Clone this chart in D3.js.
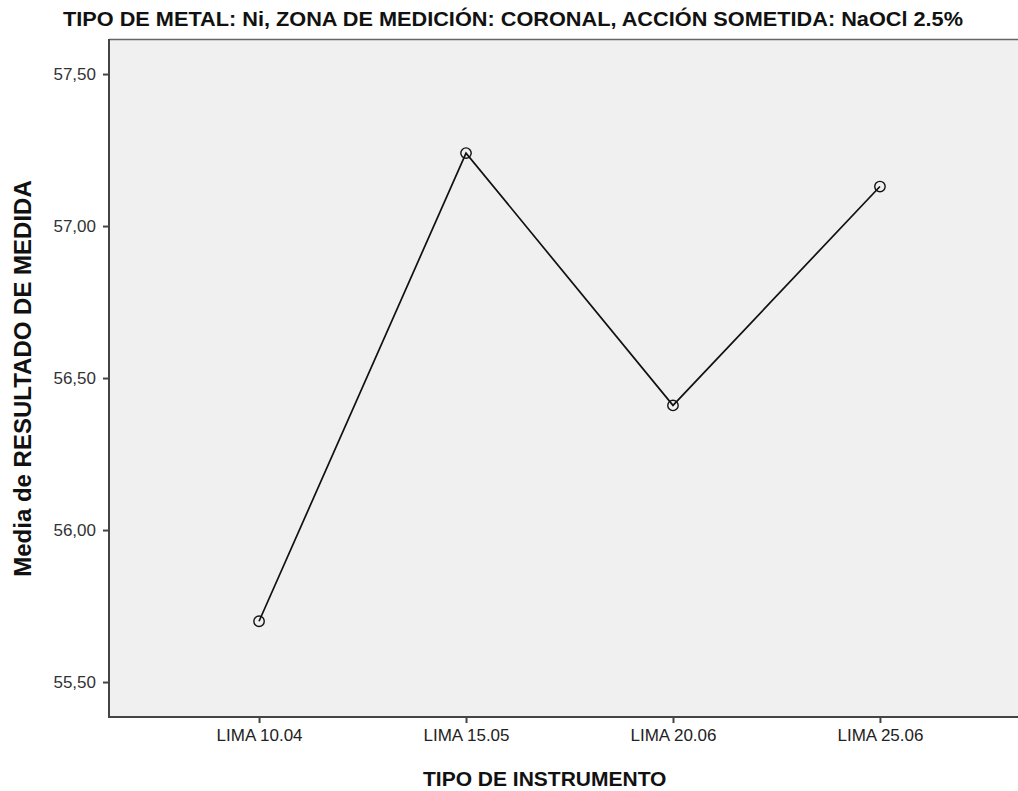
<!DOCTYPE html>
<html>
<head>
<meta charset="utf-8">
<script src="https://cdn.jsdelivr.net/npm/d3@7"></script>
<style>
  html, body { margin: 0; padding: 0; background: #fff; overflow: hidden; }
  svg { display: block; overflow: hidden; }
</style>
</head>
<body>
<svg id="chart" width="1018" height="791"></svg>
<script>
// Mean measurement per instrument type
const categories = ["LIMA 10.04", "LIMA 15.05", "LIMA 20.06", "LIMA 25.06"];
const means = [55.70, 57.24, 56.41, 57.13];
const yTicks = [55.5, 56.0, 56.5, 57.0, 57.5];

const chartTitle = "TIPO DE METAL: Ni, ZONA DE MEDICIÓN: CORONAL, ACCIÓN SOMETIDA: NaOCl 2.5%";
const xTitle = "TIPO DE INSTRUMENTO";
const yTitle = "Media de RESULTADO DE MEDIDA";

const svg = d3.select("#chart");
const W = 1018, H = 791;
const plot = { left: 109, top: 40, right: 1030, bottom: 717 };
const sans = "Arial, 'Liberation Sans', sans-serif";

const x = d3.scalePoint()
  .domain(categories)
  .range([plot.left, plot.right])
  .padding(0.725);

const y = d3.scaleLinear()
  .domain([55.385, 57.612])
  .range([plot.bottom, plot.top]);

// Plot background
svg.append("rect")
  .attr("x", plot.left)
  .attr("y", plot.top)
  .attr("width", W - plot.left)
  .attr("height", plot.bottom - plot.top)
  .attr("fill", "#f0f0f0");

// Top frame line
svg.append("line")
  .attr("x1", plot.left).attr("x2", W)
  .attr("y1", plot.top - 0.5).attr("y2", plot.top - 0.5)
  .attr("stroke", "#666").attr("stroke-width", 1.5);

const fmt = d => d.toFixed(2).replace(".", ",");

// Y axis
const yAxis = svg.append("g")
  .attr("transform", `translate(${plot.left},0)`)
  .call(d3.axisLeft(y).tickValues(yTicks).tickFormat(fmt).tickSize(6).tickSizeOuter(0));
yAxis.select(".domain").attr("stroke", "#444").attr("stroke-width", 2)
  .attr("d", `M0,${plot.top - 1}V${plot.bottom}`);
yAxis.selectAll(".tick line").attr("stroke", "#444").attr("stroke-width", 2);
yAxis.selectAll(".tick text")
  .attr("font-family", sans)
  .attr("font-size", 17)
  .attr("fill", "#333")
  .attr("x", -13);

// X axis
const xAxis = svg.append("g")
  .attr("transform", `translate(0,${plot.bottom})`)
  .call(d3.axisBottom(x).tickSize(6).tickSizeOuter(0));
xAxis.select(".domain").attr("stroke", "#444").attr("stroke-width", 2)
  .attr("d", `M${plot.left - 1},0H${W}`);
xAxis.selectAll(".tick line").attr("stroke", "#444").attr("stroke-width", 2);
xAxis.selectAll(".tick text")
  .attr("font-family", sans)
  .attr("font-size", 17)
  .attr("fill", "#222")
  .attr("y", 12);

// Mean line
const data = categories.map((c, i) => ({ c, v: means[i] }));
svg.append("path")
  .datum(data)
  .attr("fill", "none")
  .attr("stroke", "#111")
  .attr("stroke-width", 1.7)
  .attr("d", d3.line().x(d => x(d.c)).y(d => y(d.v)));

// Point markers
svg.selectAll("circle.pt")
  .data(data)
  .enter().append("circle")
  .attr("class", "pt")
  .attr("cx", d => x(d.c))
  .attr("cy", d => y(d.v))
  .attr("r", 5.2)
  .attr("fill", "none")
  .attr("stroke", "#111")
  .attr("stroke-width", 1.4);

// Titles
svg.append("text")
  .attr("x", 63).attr("y", 26)
  .attr("textLength", 900)
  .attr("lengthAdjust", "spacingAndGlyphs")
  .attr("font-family", sans)
  .attr("font-weight", "bold")
  .attr("font-size", 21)
  .attr("fill", "#111")
  .text(chartTitle);

svg.append("text")
  .attr("x", 423).attr("y", 786)
  .attr("font-family", sans)
  .attr("font-weight", "bold")
  .attr("font-size", 21)
  .attr("fill", "#111")
  .text(xTitle);

svg.append("text")
  .attr("transform", `translate(31,${(plot.top + plot.bottom) / 2}) rotate(-90)`)
  .attr("text-anchor", "middle")
  .attr("font-family", sans)
  .attr("font-weight", "bold")
  .attr("font-size", 24)
  .attr("fill", "#111")
  .text(yTitle);
</script>
</body>
</html>
